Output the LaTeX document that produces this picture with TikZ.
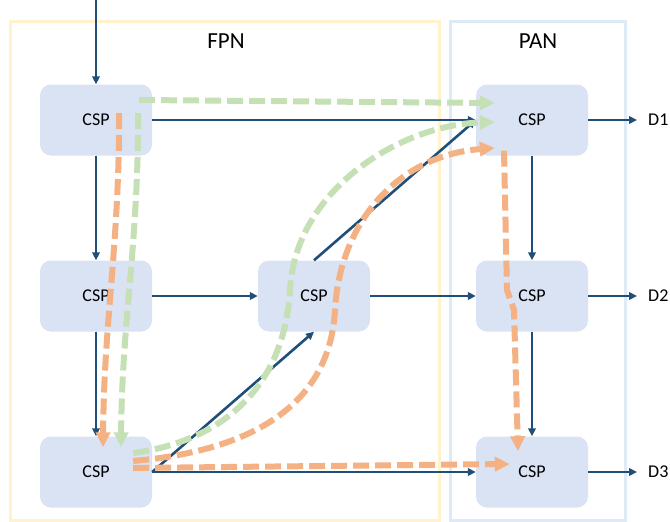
\documentclass[tikz,border=0pt]{standalone}
\usepackage{fontspec}
\setmainfont{Carlito}
\usetikzlibrary{arrows.meta}

\definecolor{cspfill}{HTML}{DAE3F3}
\definecolor{linkblue}{HTML}{1F4E79}
\definecolor{fpnline}{HTML}{FFF2CC}
\definecolor{panline}{HTML}{DEEBF7}
\definecolor{greenpath}{HTML}{C5E0B4}
\definecolor{orangepath}{HTML}{F4B183}

\begin{document}
\begin{tikzpicture}[x=1pt,y=-1pt,
    cspnode/.style={rectangle, rounded corners=11pt, fill=cspfill, minimum width=112pt, minimum height=71pt, inner sep=0pt, font=\fontsize{18}{20}\selectfont},
    link/.style={draw=linkblue, line width=2.6pt, -{Triangle[length=8pt,width=7.5pt]}},
    greenflow/.style={draw=greenpath, line width=6pt, dash pattern=on 16pt off 6pt, -{Triangle[length=15pt,width=14pt]}},
    orangeflow/.style={draw=orangepath, line width=6pt, dash pattern=on 16pt off 6pt, -{Triangle[length=15pt,width=14pt]}},
    outlabel/.style={anchor=west, inner sep=0pt, font=\fontsize{18}{20}\selectfont}
    ]

    \useasboundingbox (0,0) rectangle (670,522);

    % frames
    \draw [fpnline, line width=3pt] (10,21) rectangle (439,520);
    \draw [panline, line width=3pt] (450,21) rectangle (625,520);
    \node [font=\fontsize{23}{25}\selectfont] (fpn) at (226,41) {FPN};
    \node [font=\fontsize{23}{25}\selectfont] (pan) at (538,41) {PAN};

    % CSP blocks
    \node [cspnode] (a1) at (96,120) {CSP};
    \node [cspnode] (a2) at (96,296) {CSP};
    \node [cspnode] (a3) at (96,472) {CSP};

    \node [cspnode] (b1) at (314,296) {CSP};

    \node [cspnode] (c1) at (532,120) {CSP};
    \node [cspnode] (c2) at (532,296) {CSP};
    \node [cspnode] (c3) at (532,472) {CSP};

    \coordinate (in) at (96,0);
    \coordinate (d1) at (637,120);
    \coordinate (d2) at (637,296);
    \coordinate (d3) at (637,472);
    \node [outlabel] (l1) at (648,120) {D1};
    \node [outlabel] (l2) at (648,296) {D2};
    \node [outlabel] (l3) at (648,472) {D3};

    % solid links
    \draw [link] (in) -- (a1.north);
    \draw [link] (a1.south) -- (a2.north);
    \draw [link] (a2.south) -- (a3.north);
    \draw [link] (a1.east) -- (c1.west);
    \draw [link] (a2.east) -- (b1.west);
    \draw [link] (b1.east) -- (c2.west);
    \draw [link] (a3.east) -- (c3.west);
    \draw [link] (a3.east) -- (b1.south);
    \draw [link] (b1.north) -- (c1.west);
    \draw [link] (c1.south) -- (c2.north);
    \draw [link] (c2.south) -- (c3.north);
    \draw [link] (c1.east) -- (d1);
    \draw [link] (c2.east) -- (d2);
    \draw [link] (c3.east) -- (d3);

    % dashed flows
    \draw [greenflow] ([shift={(-13,-20)}]a1.east) -- ([shift={(19,-17)}]c1.west);
    \draw [greenflow] ([shift={(-14,-7)}]a1.east) .. controls (138,250) and (122,320) .. ([shift={(25,11)}]a3.north);
    \draw [orangeflow] ([shift={(-33,-7)}]a1.east) .. controls (119,250) and (104,320) .. ([shift={(7,11)}]a3.north);
    \draw [greenflow] ([shift={(-19,-19)}]a3.east) .. controls (230,440) and (285,380) .. (290,290)
        .. controls (295,190) and (400,125) .. ([shift={(19,2)}]c1.west);
    \draw [orangeflow] ([shift={(-19,-11)}]a3.east) .. controls (260,450) and (330,400) .. (335,310)
        .. controls (340,220) and (400,155) .. ([shift={(19,28)}]c1.west);
    \draw [orangeflow] ([shift={(-19,-4)}]a3.east) -- ([shift={(34,-8)}]c3.west);
    \draw [orangeflow] ([shift={(-28,-5)}]c1.south) -- (507,290) -- (514,310) -- ([shift={(-14,15)}]c3.north);

\end{tikzpicture}
\end{document}
